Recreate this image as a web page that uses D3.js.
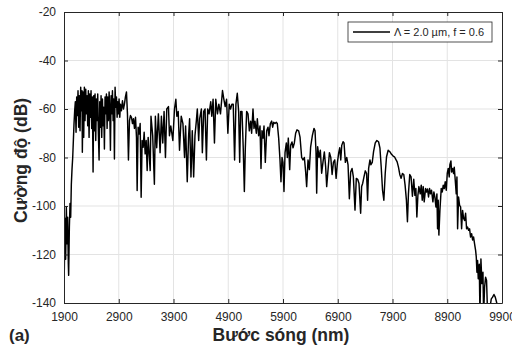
<!DOCTYPE html>
<html>
<head>
<meta charset="utf-8">
<script src="https://cdn.jsdelivr.net/npm/d3@7"></script>
<style>
  body { margin: 0; background: #fff; }
  svg { font-family: Arial, "Liberation Sans", sans-serif; }
</style>
</head>
<body>
<div id="chart"></div>
<script>
// spectrum: wavelength (nm) and intensity (dB)
const wavelength = [
  1900,1906,1918,1930,1943,1955,1967,1979,1985,1998,2010,2022,2034,2046,2059,2071,2083,2095,2107,2120,
  2132,2144,2156,2168,2181,2193,2205,2217,2229,2235,2248,2260,2272,2284,2297,2309,2321,2333,2345,2358,
  2370,2382,2394,2406,2418,2431,2443,2455,2467,2480,2492,2504,2516,2528,2541,2553,2565,2577,2589,2602,
  2614,2626,2638,2650,2663,2675,2687,2699,2711,2724,2736,2748,2760,2772,2785,2797,2809,2821,2833,2846,
  2858,2870,2882,2894,2906,2919,2931,2949,2968,2986,3004,3022,3041,3059,3077,3096,3114,3132,3151,3169,
  3187,3206,3224,3236,3254,3273,3291,3309,3327,3346,3364,3382,3401,3419,3437,3456,3474,3489,3520,3551,
  3569,3593,3624,3655,3679,3704,3728,3753,3777,3808,3826,3851,3888,3918,3943,3961,3986,4010,4041,4072,
  4102,4121,4151,4176,4194,4219,4243,4268,4292,4317,4335,4360,4378,4409,4427,4452,4476,4501,4525,4550,
  4580,4599,4623,4648,4672,4703,4728,4758,4795,4820,4844,4869,4893,4918,4942,4967,4991,5016,5040,5065,
  5090,5109,5127,5151,5175,5194,5212,5236,5261,5285,5309,5327,5352,5370,5388,5413,5431,5455,5480,5498,
  5516,5535,5553,5577,5602,5626,5644,5669,5693,5711,5730,5754,5778,5796,5821,5845,5863,5882,5900,5918,
  5937,5961,5979,5997,6022,6040,6064,6083,6107,6131,6156,6186,6211,6241,6265,6290,6314,6332,6357,6381,
  6405,6436,6466,6485,6503,6515,6533,6558,6582,6606,6631,6655,6679,6698,6748,6773,6797,6821,6845,6870,
  6894,6918,6936,6955,6973,6997,7015,7039,7064,7088,7112,7136,7161,7185,7215,7239,7264,7288,7318,7336,
  7355,7379,7403,7427,7445,7464,7488,7506,7530,7554,7585,7615,7645,7670,7694,7718,7742,7767,7791,7821,
  7851,7882,7912,7936,7961,7985,8009,8033,8057,8082,8106,8130,8154,8173,8191,8215,8239,8264,8288,8309,
  8327,8345,8364,8382,8406,8425,8443,8461,8479,8504,8522,8540,8558,8577,8595,8613,8638,8656,8674,8693,
  8711,8723,8735,8747,8766,8790,8809,8827,8845,8863,8882,8900,8918,8936,8948,8967,8979,8997,9016,9028,
  9046,9064,9077,9089,9107,9125,9144,9162,9180,9198,9217,9235,9253,9271,9290,9308,9326,9345,9363,9381,
  9399,9418,9430,9442,9454,9466,9485,9497,9515,9533,9552,9564,9582,9600,9618,9637,9655,9680,9704,9728,
  9753,9777,9801,9826
];
const intensity = [
  -113,-126.5,-105,-122,-100.5,-115.6,-104.6,-124,-128.6,-108.7,-99,-104.6,-91,-85,-80,-73,-66,-60.7,-57,-69.6,
  -55,-62.7,-52.5,-67.5,-54.5,-69,-51,-60.7,-52.5,-77.8,-53,-71.7,-51,-64.8,-51.8,-62,-54.5,-66.9,-52.5,-71.7,
  -53.8,-63.4,-52.5,-68,-55,-86,-54.5,-69,-53.8,-73,-55.9,-64.8,-53.8,-70.3,-81,-57,-67.5,-54.5,-71.7,-55.9,
  -66.9,-59.3,-76.5,-55,-62,-53.8,-68,-55,-64.8,-53,-60.7,-77,-54.5,-62,-52.5,-64.8,-55.9,-80.6,-51,-59.3,
  -55,-63.4,-57,-62,-55.9,-63.4,-58,-60.7,-56.6,-60,-58,-55,-53,-62,-81,-64.8,-62.7,-63.4,-66,-64,
  -68,-63.4,-71.7,-93.6,-67.5,-70.3,-66,-96.4,-73,-75.8,-69.6,-78.5,-73,-85.4,-71.7,-78.5,-85.4,-63,-71,-91,
  -63,-76,-62,-78,-63,-74,-61,-80,-60,-59,-71,-67,-73,-60,-56,-63,-61,-77,-63,-66,
  -80,-67,-90,-71,-64,-88,-69,-88,-71,-65,-60,-73,-64,-60,-78,-61,-60,-81,-60,-62,
  -57,-63,-56,-74,-56,-62,-58,-62,-52.4,-56,-59,-56,-70,-58,-60,-58,-58,-81,-58,-53.5,
  -61,-82,-61,-61,-77,-94,-76,-61,-62,-69,-65,-70,-60,-68,-65,-70,-64,-71,-67,-84.5,
  -69,-72,-67,-82,-69,-67.5,-71,-66,-65,-67.5,-65.5,-66,-65.5,-66,-72,-81,-90,-80,-82,-94,
  -78,-74,-80,-72,-85,-75,-73.6,-76,-74,-70,-68.6,-69,-71.6,-80,-81,-80,-86,-92,-81,-85,
  -75.6,-71,-68,-69,-77.7,-94.7,-75.6,-80,-77,-86.5,-81.8,-77.7,-83.8,-92,-78,-80,-87,-82,-81,-88.6,
  -82,-78,-76,-81,-75,-73.5,-74,-82,-80,-83,-97,-86,-84.5,-88,-101.7,-88.6,-89,-90.7,-103,-92,
  -90.7,-88,-85.5,-86.6,-97.6,-84.5,-81,-83,-82,-77.6,-74,-73,-73.5,-76,-84,-93.5,-97.6,-86.6,-79.7,-77,
  -77.6,-78.7,-79.4,-79.7,-80.8,-81.8,-84,-87,-88.6,-86.6,-87,-91.4,-97.6,-106.5,-95,-87,-88,-96,-89,-95.6,
  -92.8,-104.5,-95.6,-92,-95,-91.4,-97.6,-92,-98.3,-92.8,-94.2,-93,-96.3,-92.8,-95,-93.5,-98.3,-94.2,-96.3,-100.4,
  -95,-109.4,-97.6,-112,-101.8,-92.8,-94.2,-91.4,-92.8,-90,-93.5,-86.6,-84.5,-88,-83,-81.4,-86,-84.5,-86.6,-84,
  -89.4,-95,-88,-109.4,-96.3,-99.7,-100.4,-109.4,-101.8,-105,-106,-103,-109.4,-108.7,-110,-109.4,-112.8,-111.4,-114,-112.8,
  -115.6,-118.3,-121,-127.3,-122.5,-130,-124,-145,-121.8,-132,-127.3,-145,-133.5,-129.4,-130.7,-145,-145,-142,-138.3,-137.6,
  -136.5,-137.6,-139.7,-142
];

const xTicks = [1900, 2900, 3900, 4900, 5900, 6900, 7900, 8900, 9900];
const yTicks = [-140, -120, -100, -80, -60, -40, -20];
const legendLabel = "\u039B = 2.0 \u00B5m, f = 0.6";
const xTitle = "Bước sóng (nm)";
const yTitle = "Cường độ (dB)";
const panelLabel = "(a)";

const width = 512, height = 348;
const margin = {top: 12, right: 10, bottom: 45, left: 64};
const plotW = width - margin.left - margin.right;
const plotH = height - margin.top - margin.bottom;
const axisColor = "#262626";

const svg = d3.select("#chart")
  .append("svg")
  .attr("width", width)
  .attr("height", height);

const x = d3.scaleLinear().domain([1900, 9900]).range([0, plotW]);
const y = d3.scaleLinear().domain([-140, -20]).range([plotH, 0]);

const g = svg.append("g")
  .attr("transform", `translate(${margin.left},${margin.top})`);

// grid
g.append("g")
  .selectAll("line")
  .data(xTicks.slice(1, -1))
  .join("line")
    .attr("x1", d => x(d)).attr("x2", d => x(d))
    .attr("y1", 0).attr("y2", plotH)
    .attr("stroke", "#e3e3e3").attr("stroke-width", 1);
g.append("g")
  .selectAll("line")
  .data(yTicks.slice(1, -1))
  .join("line")
    .attr("x1", 0).attr("x2", plotW)
    .attr("y1", d => y(d)).attr("y2", d => y(d))
    .attr("stroke", "#e3e3e3").attr("stroke-width", 1);

// the spectrum, clipped to the box
svg.append("defs").append("clipPath").attr("id", "clip")
  .append("rect").attr("width", plotW).attr("height", plotH);

const pts = wavelength.map((w, i) => [w, intensity[i]]);
const line = d3.line().x(d => x(d[0])).y(d => y(d[1]));

g.append("path")
  .datum(pts)
  .attr("clip-path", "url(#clip)")
  .attr("fill", "none")
  .attr("stroke", "#000")
  .attr("stroke-width", 1.45)
  .attr("stroke-linejoin", "round")
  .attr("d", line);

// axes (inside ticks, box style)
const xAxis = g.append("g")
  .attr("transform", `translate(0,${plotH})`)
  .call(d3.axisBottom(x).tickValues(xTicks).tickSizeInner(-4).tickSizeOuter(0).tickPadding(9));
const yAxis = g.append("g")
  .call(d3.axisLeft(y).tickValues(yTicks).tickSizeInner(-4).tickSizeOuter(0).tickPadding(8));
g.append("g")
  .call(d3.axisTop(x).tickValues(xTicks).tickSizeInner(-4).tickSizeOuter(0).tickFormat(""));
g.append("g")
  .attr("transform", `translate(${plotW},0)`)
  .call(d3.axisRight(y).tickValues(yTicks).tickSizeInner(-4).tickSizeOuter(0).tickFormat(""));

g.selectAll(".domain, .tick line").attr("stroke", axisColor);
g.selectAll(".tick text")
  .attr("fill", axisColor)
  .style("font-size", "12px")
  .style("font-family", "Arial, 'Liberation Sans', sans-serif");
xAxis.selectAll(".tick text").text(d => d);
yAxis.selectAll(".tick text").text(d => d);

// legend
const leg = g.append("g").attr("transform", `translate(${348 - margin.left},${22 - margin.top})`);
leg.append("rect")
  .attr("width", 144).attr("height", 20)
  .attr("fill", "#fff")
  .attr("stroke", axisColor).attr("stroke-width", 0.8);
leg.append("line")
  .attr("x1", 5).attr("x2", 42).attr("y1", 10).attr("y2", 10)
  .attr("stroke", "#000").attr("stroke-width", 1.3);
leg.append("text")
  .attr("x", 46).attr("y", 14)
  .attr("fill", axisColor)
  .style("font-size", "11px")
  .text(legendLabel);

// titles
svg.append("text")
  .attr("x", margin.left + plotW / 2 - 2)
  .attr("y", 341)
  .attr("text-anchor", "middle")
  .attr("fill", axisColor)
  .style("font-size", "17.5px")
  .style("font-weight", "bold")
  .text(xTitle);

svg.append("text")
  .attr("transform", `translate(27,${margin.top + plotH / 2 + 3}) rotate(-90)`)
  .attr("text-anchor", "middle")
  .attr("fill", axisColor)
  .style("font-size", "17.5px")
  .style("font-weight", "bold")
  .text(yTitle);

svg.append("text")
  .attr("x", 9).attr("y", 341)
  .attr("fill", axisColor)
  .style("font-size", "17px")
  .style("font-weight", "bold")
  .text(panelLabel);
</script>
</body>
</html>
